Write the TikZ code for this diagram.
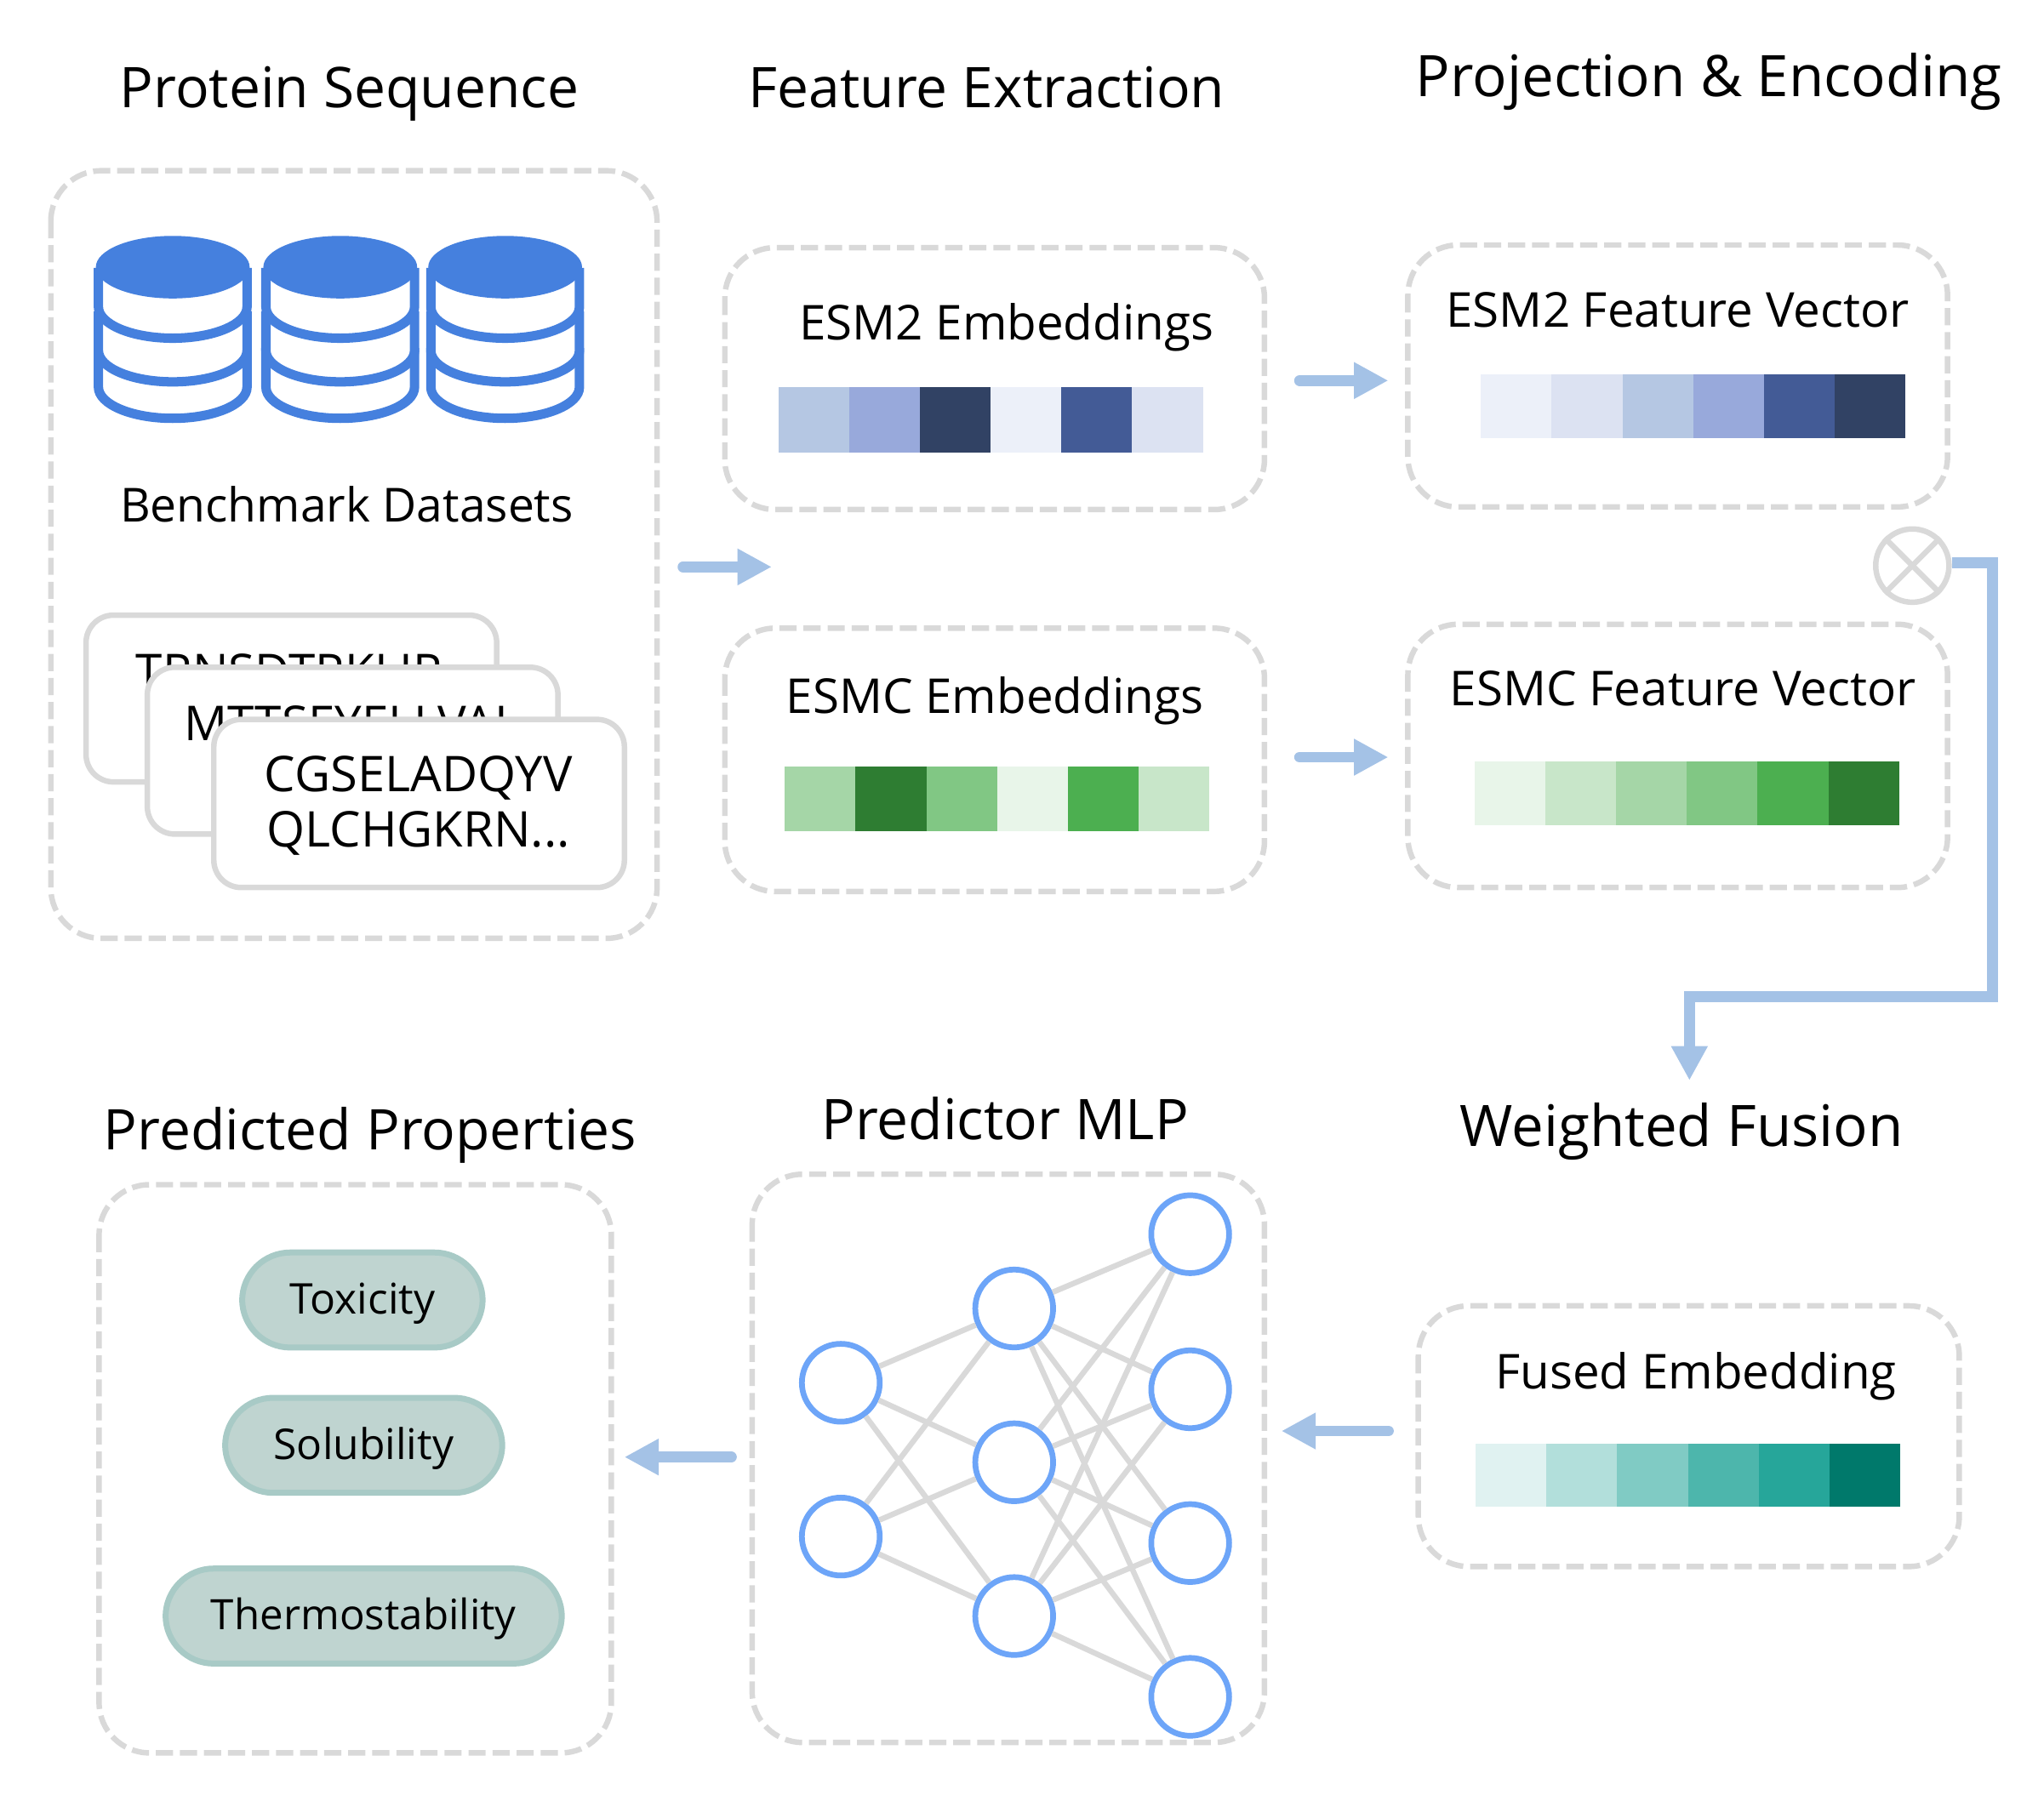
\documentclass[tikz,border=0pt]{standalone}
\usepackage{fontspec}
\setmainfont{Open Sans}
\usetikzlibrary{arrows.meta,shapes.geometric}
\definecolor{panelgray}{HTML}{D9D9D9}
\definecolor{flowblue}{HTML}{A4C2E6}
\definecolor{dbblue}{HTML}{4580DE}
\definecolor{neuronblue}{HTML}{6DA5F8}
\definecolor{pillfill}{HTML}{BFD4D0}
\definecolor{pillline}{HTML}{A8CAC6}
\tikzset{
  panel/.style={draw=panelgray,line width=2.4pt,dash pattern=on 7.5pt off 3pt,rounded corners=22pt},
  seqcard/.style={draw=panelgray,line width=2.4pt,fill=white,rounded corners=12pt},
  flow/.style={draw=flowblue,line width=4.8pt,-{Triangle[length=15pt,width=15pt]}},
  neuron/.style={circle,draw=neuronblue,line width=2.5pt,fill=white,minimum size=34pt,inner sep=0pt},
  synapse/.style={draw=panelgray,line width=2.4pt},
  pill/.style={draw=pillline,fill=pillfill,line width=2.6pt,rounded corners=21pt,inner sep=0pt,minimum height=41.5pt,
    text height=15.5pt,text depth=3.3pt,font=\fontsize{18.5}{22}\selectfont},
  heading/.style={font=\fontsize{24.5}{28}\selectfont},
  sublabel/.style={font=\fontsize{21}{24}\selectfont},
}
\newcommand{\cellbar}[4]{% x, y, height, colour list
  \foreach \cellhex [count=\celli from 0] in {#4} {
    \definecolor{cellcol}{HTML}{\cellhex}
    \fill[cellcol] ({#1+\celli*54.3},#2) rectangle ++(54.4,#3);
  }
}
\begin{document}
\begin{tikzpicture}[x=0.02cm,y=-0.02cm]
  \useasboundingbox (0,0) rectangle (1568,1386.5);

  % Section titles
  \node[heading] (titleseq) at (268,72) {Protein Sequence};
  \node[heading] (titlefeat) at (757,67) {Feature Extraction};
  \node[heading,font=\fontsize{25}{28}\selectfont] (titleproj) at (1311,63) {Projection \& Encoding};
  \node[heading,font=\fontsize{25}{28}\selectfont] (titlefuse) at (1290,868) {Weighted Fusion};
  \node[heading] (titlemlp) at (771,858) {Predictor MLP};
  \node[heading] (titleprop) at (284,871) {Predicted Properties};

  % Dashed panels
  \draw[panel] (39,131) rectangle (504,720);
  \draw[panel] (556,190) rectangle (970,391);
  \draw[panel] (556,482) rectangle (970,684);
  \draw[panel] (1080,188) rectangle (1494,389);
  \draw[panel] (1080,479) rectangle (1494,681);
  \draw[panel] (1088,1002) rectangle (1503,1202);
  \draw[panel] (577,901) rectangle (970,1337);
  \draw[panel] (76,909) rectangle (469,1345);

  % Database icons
  \foreach \cx in {132.5,261,387.5} {
    \foreach \cy in {297,269,235.5} {
      \draw[dbblue,line width=4.1pt,fill=white] (\cx-57,\cy-30) -- (\cx-57,\cy)
        arc[start angle=180,end angle=0,x radius=57,y radius=24] -- (\cx+57,\cy-30);
    }
    \fill[dbblue] (\cx,205) ellipse[x radius=59,y radius=24];
  }
  \node[sublabel,font=\fontsize{20.5}{24}\selectfont] (benchlabel) at (266,387) {Benchmark Datasets};

  % Sequence cards
  \draw[seqcard] (66,472) rectangle (381,600);
  \node[sublabel] (seqa) at (222,515) {TRNSDTRKLIR};
  \draw[seqcard] (113,512) rectangle (428,640);
  \node[sublabel] (seqb) at (270,555) {MTTSEYELLVAL};
  \draw[seqcard] (164,552) rectangle (479,681);
  \node[sublabel,align=center,font=\fontsize{21.5}{24}\selectfont] (seqc) at (321,618) {CGSELADQYV\\QLCHGKRN...};

  % Embedding bars
  \node[sublabel] (esmtwo) at (772,251) {ESM2 Embeddings};
  \cellbar{597}{297}{50}{B5C7E3,98A9DB,314264,ECF0F9,435B96,DCE2F2}
  \node[sublabel] (esmc) at (763,538) {ESMC Embeddings};
  \cellbar{602}{588}{50}{A5D6A7,2E7D32,81C784,E8F5E9,4CAF50,C8E6C9}
  \node[sublabel] (vectwo) at (1287,238) {ESM2 Feature Vector};
  \cellbar{1136}{287}{49}{ECF0F9,DCE2F2,B5C7E3,98A9DB,435B96,314264}
  \node[sublabel] (vecc) at (1291,528) {ESMC Feature Vector};
  \cellbar{1131}{584}{49}{E8F5E9,C8E6C9,A5D6A7,81C784,4CAF50,2E7D32}
  \node[sublabel] (fused) at (1301,1056) {Fused Embedding};
  \cellbar{1132}{1108}{48}{E0F2F1,B2DFDB,80CBC4,4DB6AC,26A69A,00796B}

  % Fusion symbol
  \node[circle,draw=panelgray,line width=2.4pt,minimum size=32pt,inner sep=0pt] (otimes) at (1467,434) {};
  \draw[synapse] (otimes.45) -- (otimes.225);
  \draw[synapse] (otimes.135) -- (otimes.315);

  % Flow arrows
  \coordinate (a1s) at (524,435); \coordinate (a1e) at (592,435);
  \coordinate (a2s) at (997,292); \coordinate (a2e) at (1065,292);
  \coordinate (a3s) at (997,581); \coordinate (a3e) at (1065,581);
  \coordinate (a4s) at (1065,1098); \coordinate (a4e) at (983,1098);
  \coordinate (a5s) at (561,1118); \coordinate (a5e) at (479,1118);
  \foreach \from/\to in {a1s/a1e,a2s/a2e,a3s/a3e,a4s/a4e,a5s/a5e}
    \draw[flow,line cap=round] (\from) -- (\to);
  \coordinate (bendone) at (1528.5,432);
  \coordinate (bendtwo) at (1528.5,765);
  \coordinate (bendthree) at (1296,765);
  \coordinate (fusetop) at (1296,829);
  \draw[flow] (otimes.east |- bendone) -- (bendone) -- (bendtwo) -- (bendthree) -- (fusetop);

  % Predictor network
  \foreach \name/\x/\y in {ia/645/1061,ib/645/1179,ha/778/1004,hb/778/1122,hc/778/1240,
      oa/913/947,ob/913/1066,oc/913/1184,od/913/1302}
    \node[neuron] (\name) at (\x,\y) {};
  \foreach \from in {ia,ib}
    \foreach \to in {ha,hb,hc}
      \draw[synapse] (\from) -- (\to);
  \foreach \from in {ha,hb,hc}
    \foreach \to in {oa,ob,oc,od}
      \draw[synapse] (\from) -- (\to);

  % Predicted properties
  \node[pill,minimum width=105pt] (toxic) at (278,997.5) {Toxicity};
  \node[pill,minimum width=121pt] (soluble) at (279,1109) {Solubility};
  \node[pill,minimum width=173pt,font=\fontsize{18.3}{22}\selectfont] (thermo) at (279,1240) {Thermostability};
\end{tikzpicture}
\end{document}
